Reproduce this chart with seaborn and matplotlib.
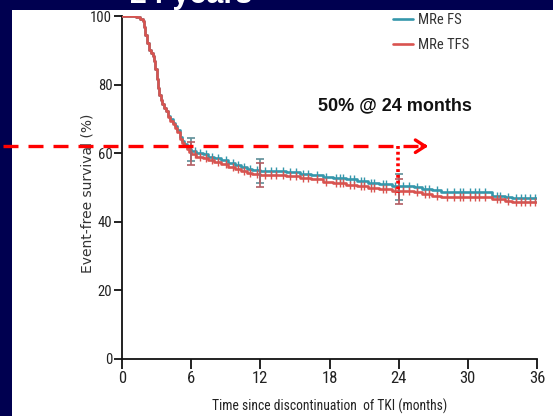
import numpy as np
import pandas as pd
import matplotlib
matplotlib.use("Agg")
import matplotlib.pyplot as plt
from matplotlib import font_manager
from matplotlib.patches import Rectangle
import seaborn as sns

# ---- Kaplan-Meier step data (months, % event-free) ----
fs_time = [0, 1.2, 1.6, 1.8, 1.9, 2.0, 2.15, 2.3, 2.5, 2.65, 2.8, 2.9, 3.0, 3.1, 3.2,
           3.35, 3.5, 3.65, 3.8, 4.0, 4.2, 4.4, 4.6, 4.8, 5.0, 5.2, 5.4, 5.6, 5.8, 6.0,
           6.4, 7.0, 7.5, 8.0, 8.6, 9.2, 9.8, 10.3, 10.8, 11.3, 12.0, 14.2, 15.4, 16.4,
           17.4, 18.3, 19.4, 20.4, 21.3, 22.3, 23.4, 25.3, 26.0, 26.9, 27.7, 32.1, 33.2,
           33.8, 36.0]
fs_surv = [100, 99.6, 99.2, 98.4, 96.8, 94.5, 92.2, 90.0, 89.2, 88.2, 86.8, 84.5, 81.5,
           79.0, 77.0, 75.4, 74.3, 73.2, 72.2, 70.8, 69.8, 68.8, 67.8, 66.8, 64.8, 63.6,
           62.6, 61.8, 61.2, 60.6, 60.1, 59.6, 59.0, 58.5, 57.9, 57.2, 56.6, 56.0, 55.4,
           55.0, 54.7, 54.4, 54.0, 53.6, 53.0, 52.6, 52.3, 51.8, 51.4, 51.0, 50.4, 50.0,
           49.6, 49.1, 48.6, 47.6, 47.3, 47.0, 47.0]

tfs_time = fs_time
tfs_surv = [100, 99.6, 99.2, 98.4, 96.8, 94.5, 92.2, 90.0, 89.2, 88.2, 86.8, 84.5, 81.5,
            79.0, 77.0, 75.4, 74.3, 73.2, 72.2, 70.6, 69.5, 68.4, 67.3, 66.2, 64.2, 63.0,
            62.0, 61.1, 60.4, 59.6, 59.0, 58.5, 57.9, 57.3, 56.7, 56.0, 55.4, 54.8, 54.3,
            53.9, 53.6, 53.3, 52.8, 52.3, 51.7, 51.2, 50.8, 50.3, 49.9, 49.5, 49.0, 48.6,
            48.2, 47.6, 47.1, 46.5, 46.1, 45.8, 45.8]

# censored observations (months)
censor_times = [6.3, 6.8, 7.3, 7.8, 8.3, 9.0, 9.6, 10.1, 10.6, 11.1, 11.7, 12.4, 12.9,
                13.4, 14.0, 14.6, 15.1, 15.7, 16.1, 16.9, 17.7, 18.6, 18.9, 19.2, 19.8,
                20.1, 20.7, 21.0, 21.6, 21.9, 22.6, 22.9, 23.7, 24.4, 24.9, 25.6, 26.3,
                26.6, 27.3, 28.2, 28.8, 29.3, 29.6, 30.2, 30.6, 31.0, 31.5, 32.5, 32.8,
                33.5, 34.2, 34.6, 35.0, 35.4, 35.8]

# 95% confidence intervals at landmark times
ci_time = [6, 12, 24]
fs_ci_lo = [57.6, 51.3, 46.4]
fs_ci_hi = [64.4, 58.3, 53.9]
tfs_ci_lo = [56.6, 50.0, 45.2]
tfs_ci_hi = [63.2, 57.1, 52.5]

series_names = ["MRe FS", "MRe TFS"]
x_ticks = [0, 6, 12, 18, 24, 30, 36]
y_ticks = [0, 20, 40, 60, 80, 100]
landmark_level = 62.0
landmark_month = 23.9
landmark_value = 48.4
annotation = "50% @ 24 months"
title = "24 years"

# ---- fonts ----
available = {f.name for f in font_manager.fontManager.ttflist}
def pick(*names):
    for n in names:
        if n in available:
            return n
    return "DejaVu Sans"
narrow = pick("Liberation Sans Narrow", "Roboto Condensed", "Liberation Sans")
arial = pick("Liberation Sans", "DejaVu Sans")

sns.set_style("ticks")
plt.rcParams["font.family"] = ["DejaVu Sans"]

colors = {"MRe FS": "#3597ab", "MRe TFS": "#d9534f"}
bar_colors = {"MRe FS": "#5f8f98", "MRe TFS": "#b35c62"}

df = pd.concat([
    pd.DataFrame({"time": fs_time, "surv": fs_surv, "series": series_names[0]}),
    pd.DataFrame({"time": tfs_time, "surv": tfs_surv, "series": series_names[1]}),
], ignore_index=True)

W, H = 553, 416
fig = plt.figure(figsize=(W / 100, H / 100), dpi=100)
fig.patch.set_facecolor("#000050")
panel = Rectangle((12 / W, 0), 1 - 12 / W, 1 - 10 / H, transform=fig.transFigure,
                  facecolor="white", edgecolor="none", zorder=-10)
fig.add_artist(panel)

ax = fig.add_axes([122 / W, 1 - 358.7 / H, (537 - 122) / W, (358.7 - 16) / H])
ax.set_zorder(1)
ax.set_facecolor("none")

sns.lineplot(data=df, x="time", y="surv", hue="series", palette=colors,
             estimator=None, sort=False, drawstyle="steps-post", lw=1.9,
             ax=ax, zorder=3)

# censor ticks sit on each step curve
for name, t, s in [(series_names[0], fs_time, fs_surv), (series_names[1], tfs_time, tfs_surv)]:
    idx = np.searchsorted(t, censor_times, side="right") - 1
    cdf = pd.DataFrame({"time": censor_times, "surv": np.asarray(s)[idx]})
    sns.scatterplot(data=cdf, x="time", y="surv", marker="|", s=30, linewidth=1.0,
                    color=colors[name], ax=ax, zorder=3, legend=False)

# confidence interval bars
for name, lo, hi in [(series_names[0], fs_ci_lo, fs_ci_hi), (series_names[1], tfs_ci_lo, tfs_ci_hi)]:
    lo = np.asarray(lo); hi = np.asarray(hi)
    mid = (lo + hi) / 2
    ax.errorbar(ci_time, mid, yerr=[mid - lo, hi - mid], fmt="none",
                ecolor=bar_colors[name], elinewidth=1.2, capsize=3, capthick=1.2, zorder=4)

ax.set_xlim(0, 36)
ax.set_ylim(0, 100)
ax.set_xticks(x_ticks)
ax.set_yticks(y_ticks)
sns.despine(ax=ax)
for sp in ("left", "bottom"):
    ax.spines[sp].set_linewidth(1.3)
    ax.spines[sp].set_color("#111111")
ax.tick_params(axis="both", width=1.3, color="#111111", direction="out")
ax.tick_params(axis="x", length=7, pad=2, labelsize=12, labelcolor="#222222")
ax.tick_params(axis="y", length=6, pad=1, labelsize=10.5, labelcolor="#222222")
for lab in ax.get_xticklabels() + ax.get_yticklabels():
    lab.set_fontfamily(narrow)

ax.set_xlabel("Time since discontinuation  of TKI (months)", fontfamily=narrow,
              fontsize=9.8, color="#222222", labelpad=9)
ax.set_ylabel("Event-free survival (%)", fontsize=10, color="#333333")
ax.yaxis.set_label_coords(-0.066, 0.484)

leg = ax.legend(handles=ax.get_legend_handles_labels()[0][:2], labels=series_names,
                loc="upper left", bbox_to_anchor=(393 / W, 1 - 13 / H),
                bbox_transform=fig.transFigure, frameon=False, borderpad=0,
                borderaxespad=0, handlelength=1.4, handletextpad=0.3,
                labelspacing=0.75, prop={"family": narrow, "size": 10.5})
for txt in leg.get_texts():
    txt.set_color("#333333")

# landmark guide: dashed line with arrow, dotted drop at 24 months
ax.plot([-10.3, 26.1], [landmark_level, landmark_level], color="red", lw=2.4,
        dashes=(4.5, 3.0), clip_on=False, zorder=5)
ax.annotate("", xy=(26.8, landmark_level), xytext=(25.8, landmark_level),
            arrowprops=dict(arrowstyle="->,head_length=0.7,head_width=0.45",
                            color="red", lw=2.4), annotation_clip=False, zorder=5)
ax.plot([landmark_month, landmark_month], [landmark_level, landmark_value], color="red",
        lw=2.6, linestyle=(0, (0.8, 0.8)), zorder=5)

ax.text(23.7, 73.7, annotation, fontfamily=arial, fontweight="bold", fontsize=13,
        ha="center", va="center", color="#111111")

fig.text(191 / W, 1 - 3 / H, title, color="white", fontfamily=arial, fontweight="bold",
         fontsize=22, ha="center", va="baseline")

fig.savefig("out.png", dpi=100, facecolor=fig.get_facecolor())
